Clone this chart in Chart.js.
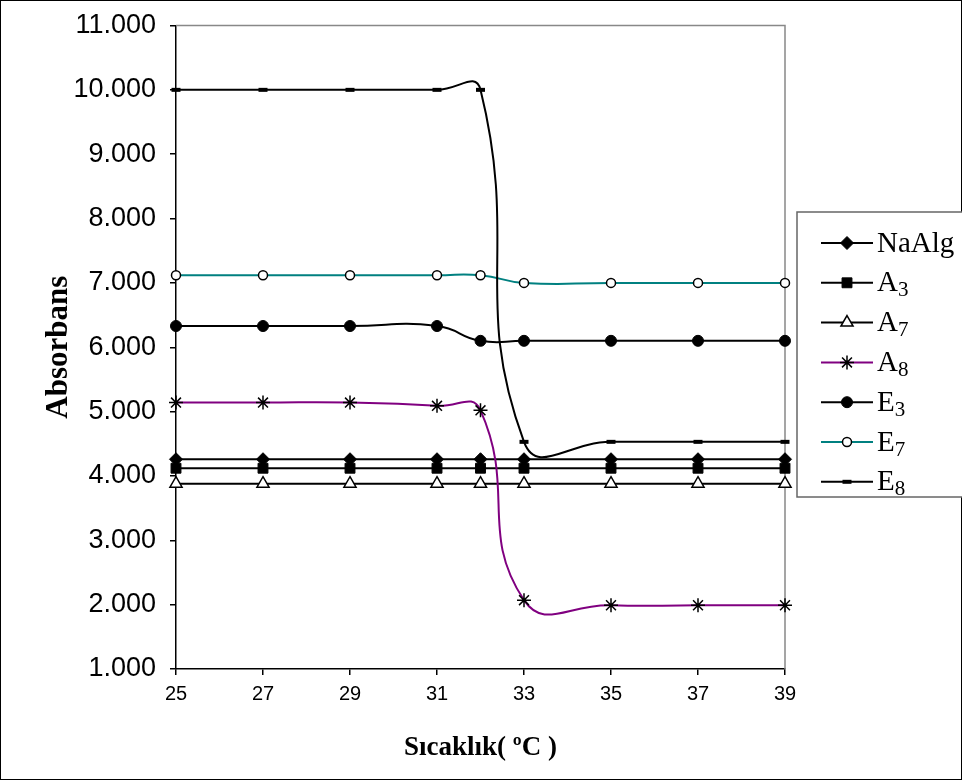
<!DOCTYPE html>
<html>
<head>
<meta charset="utf-8">
<script src="https://cdn.jsdelivr.net/npm/chart.js@4.4.1/dist/chart.umd.min.js"></script>
<style>
  html, body { margin: 0; padding: 0; background: #fff; }
  #chart { display: block; }
</style>
</head>
<body>
<canvas id="chart" width="962" height="782"></canvas>
<script>
const temps = [25, 27, 29, 31, 32, 33, 35, 37, 39];
const xTicks = [25, 27, 29, 31, 33, 35, 37, 39];
const yTicks = ["1.000", "2.000", "3.000", "4.000", "5.000", "6.000", "7.000", "8.000", "9.000", "10.000", "11.000"];

const naAlg = [4.26, 4.26, 4.26, 4.26, 4.26, 4.26, 4.26, 4.26, 4.26];
const a3 = [4.12, 4.12, 4.12, 4.12, 4.12, 4.12, 4.12, 4.12, 4.12];
const a7 = [3.88, 3.88, 3.88, 3.88, 3.88, 3.88, 3.88, 3.88, 3.88];
const a8 = [5.14, 5.14, 5.14, 5.09, 5.02, 2.07, 1.99, 1.99, 1.99];
const e3 = [6.33, 6.33, 6.33, 6.33, 6.1, 6.1, 6.1, 6.1, 6.1];
const e7 = [7.12, 7.12, 7.12, 7.12, 7.12, 7.0, 7.0, 7.0, 7.0];
const e8 = [10.0, 10.0, 10.0, 10.0, 10.0, 4.53, 4.53, 4.53, 4.53];

const names = [["NaAlg", ""], ["A", "3"], ["A", "7"], ["A", "8"], ["E", "3"], ["E", "7"], ["E", "8"]];
const values = [naAlg, a3, a7, a8, e3, e7, e8];
const lineColors = ["#000", "#000", "#000", "#800080", "#000", "#008080", "#000"];
const markers = [
  { style: "rectRot", r: 6.5, fill: "#000", bw: 1 },
  { style: "rect", r: 7, fill: "#000", bw: 1 },
  { style: "triangle", r: 7, fill: "#fff", bw: 1.5 },
  { style: "star", r: 7, fill: "#000", bw: 1.5 },
  { style: "circle", r: 5.5, fill: "#000", bw: 1 },
  { style: "circle", r: 4.5, fill: "#fff", bw: 1.5 },
  { style: "line", r: 4.5, fill: "#000", bw: 4 },
];

const datasets = values.map((v, i) => ({
  label: names[i].join(""),
  data: temps.map((t, j) => ({ x: t, y: v[j] })),
  borderColor: lineColors[i],
  borderWidth: 2,
  tension: 0.5,
  pointStyle: markers[i].style,
  pointRadius: markers[i].r,
  pointBackgroundColor: markers[i].fill,
  pointBorderColor: "#000",
  pointBorderWidth: markers[i].bw,
  clip: false,
  order: 6 - i,
}));

const frame = {
  id: "frame",
  beforeDatasetsDraw(chart) {
    const { ctx, chartArea: a } = chart;
    ctx.save();
    ctx.strokeStyle = "#888";
    ctx.lineWidth = 1.5;
    ctx.beginPath();
    ctx.moveTo(a.left, a.top);
    ctx.lineTo(a.right, a.top);
    ctx.lineTo(a.right, a.bottom);
    ctx.stroke();
    ctx.restore();
  },
  afterDraw(chart) {
    const ctx = chart.ctx;
    ctx.save();
    // outer border
    ctx.strokeStyle = "#000";
    ctx.lineWidth = 1;
    ctx.strokeRect(0.5, 0.5, 961, 779);
    // legend box
    ctx.strokeStyle = "#666";
    ctx.lineWidth = 1.5;
    ctx.fillStyle = "#fff";
    ctx.fillRect(797, 212, 170, 285);
    ctx.strokeRect(797, 212, 170, 285);
    names.forEach((n, i) => {
      const y = 243 + i * 39.8;
      ctx.strokeStyle = lineColors[i];
      ctx.lineWidth = 2;
      ctx.beginPath();
      ctx.moveTo(821, y);
      ctx.lineTo(873, y);
      ctx.stroke();
      const m = markers[i];
      ctx.fillStyle = m.fill;
      ctx.strokeStyle = "#000";
      ctx.lineWidth = m.bw;
      Chart.helpers.drawPoint(ctx, { pointStyle: m.style, radius: m.r, rotation: 0, borderWidth: m.bw }, 847, y);
      ctx.fillStyle = "#000";
      ctx.textBaseline = "middle";
      ctx.textAlign = "left";
      ctx.font = "29px 'Liberation Serif'";
      ctx.fillText(n[0], 877, y + 1);
      if (n[1]) {
        const w = ctx.measureText(n[0]).width;
        ctx.font = "21px 'Liberation Serif'";
        ctx.fillText(n[1], 877 + w, y + 8);
      }
    });
    ctx.restore();
  },
};

new Chart(document.getElementById("chart"), {
  type: "line",
  data: { datasets },
  options: {
    responsive: false,
    animation: false,
    layout: { padding: { left: 0, top: 25.5, right: 177, bottom: 0 } },
    plugins: { legend: { display: false }, tooltip: { enabled: false } },
    scales: {
      x: {
        type: "linear",
        min: 25,
        max: 39,
        afterBuildTicks: (s) => { s.ticks = xTicks.map((v) => ({ value: v })); },
        afterFit: (s) => { s.height = 113; s.paddingLeft = 0; s.paddingRight = 0; },
        ticks: {
          color: "#000",
          padding: 7,
          maxRotation: 0,
          font: { family: "'Liberation Sans'", size: 20 },
        },
        grid: { drawOnChartArea: false, color: "#000", tickLength: 6, lineWidth: 1.5 },
        border: { color: "#000", width: 1.5 },
        title: {
          display: true,
          text: "Sıcaklık( ºC )",
          color: "#000",
          font: { family: "'Liberation Serif'", size: 27, weight: "bold" },
          padding: { top: 18, bottom: 18 },
        },
      },
      y: {
        min: 1,
        max: 11,
        afterBuildTicks: (s) => { s.ticks = yTicks.map((t) => ({ value: parseFloat(t) })); },
        afterFit: (s) => { s.width = 176; s.paddingTop = 0; s.paddingBottom = 0; },
        ticks: {
          color: "#000",
          padding: 14,
          callback: (v, i) => yTicks[i],
          font: { family: "'Liberation Sans'", size: 27 },
        },
        grid: { drawOnChartArea: false, color: "#000", tickLength: 6, lineWidth: 1.5 },
        border: { color: "#000", width: 1.5 },
        title: {
          display: true,
          text: "Absorbans",
          color: "#000",
          font: { family: "'Liberation Serif'", size: 31, weight: "bold" },
          padding: { top: 40, bottom: 40 },
        },
      },
    },
  },
  plugins: [frame],
});
</script>
</body>
</html>
